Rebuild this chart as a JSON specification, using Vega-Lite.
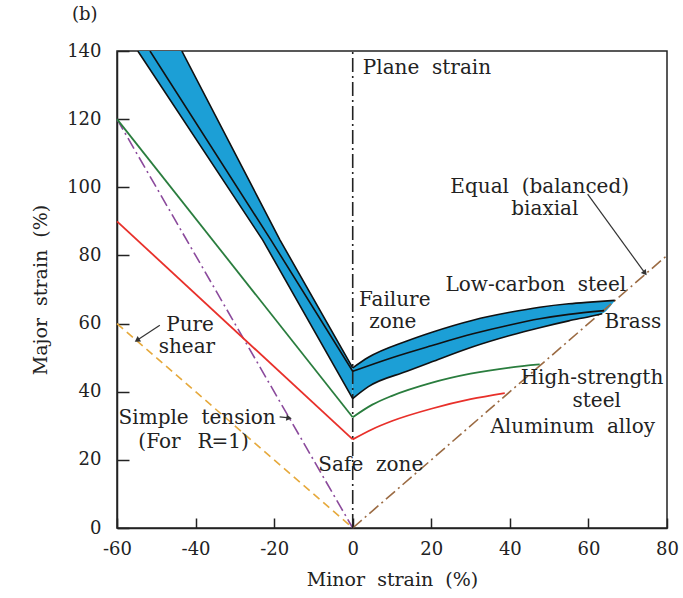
{
  "$schema": "https://vega.github.io/schema/vega-lite/v6.json",
  "autosize": {"type": "none"},
  "padding": {"left": 117, "top": 51, "right": 16, "bottom": 70},
  "width": 550,
  "height": 477,
  "background": "white",
  "title": {"text": "(b)", "anchor": "start", "frame": "group", "dx": -45, "offset": 18, "font": "DejaVu Serif", "fontSize": 18, "fontWeight": "normal", "color": "#222"},
  "config": {
    "view": {"stroke": "#222", "strokeWidth": 1.5},
    "axis": {"grid": false, "labelFlush": false, "domainColor": "#222", "domainWidth": 1.5, "tickColor": "#222", "tickWidth": 1.5, "labelFont": "DejaVu Serif", "labelFontSize": 18, "labelColor": "#222", "titleFont": "DejaVu Serif", "titleFontSize": 19, "titleFontWeight": "normal", "titleColor": "#222", "labelExpr": "replace(datum.label, '\u2212', '-')"},
    "text": {"font": "DejaVu Serif", "fontSize": 20, "color": "#222"}
  },
  "datasets": {
    "bandL": [
      {"y": 38, "x1": 0, "x2": 0},
      {"y": 47, "x1": -4.4, "x2": 0},
      {"y": 84.5, "x1": -22.9, "x2": -18.5},
      {"y": 140, "x1": -54.7, "x2": -43.5}
    ],
    "bandR": [
      {"x": 0, "y1": 38, "y2": 47},
      {"x": 4, "y1": 41.5, "y2": 50.1},
      {"x": 13.8, "y1": 46, "y2": 54.9},
      {"x": 20, "y1": 48.7, "y2": 57.4},
      {"x": 30.6, "y1": 53.2, "y2": 61},
      {"x": 40, "y1": 56.5, "y2": 63.3},
      {"x": 47.6, "y1": 58.8, "y2": 64.8},
      {"x": 55, "y1": 60.8, "y2": 65.8},
      {"x": 60.4, "y1": 62.1, "y2": 66.3},
      {"x": 63.5, "y1": 62.9, "y2": 66.6},
      {"x": 66.7, "y1": 66.7, "y2": 66.8}
    ],
    "curves": [
      {"s": "upperL", "i": 1, "x": -43.5, "y": 140},
      {"s": "upperL", "i": 2, "x": -18.5, "y": 84.5},
      {"s": "upperL", "i": 3, "x": 0, "y": 47},
      {"s": "lowerL", "i": 1, "x": -54.7, "y": 140},
      {"s": "lowerL", "i": 2, "x": -22.9, "y": 84.5},
      {"s": "lowerL", "i": 3, "x": 0, "y": 38},
      {"s": "middleL", "i": 1, "x": -51.6, "y": 140},
      {"s": "middleL", "i": 2, "x": -20.8, "y": 84.5},
      {"s": "middleL", "i": 3, "x": 0, "y": 46},
      {"s": "greenL", "i": 1, "x": -60, "y": 120},
      {"s": "greenL", "i": 2, "x": 0, "y": 32.5},
      {"s": "redL", "i": 1, "x": -60, "y": 90},
      {"s": "redL", "i": 2, "x": 0, "y": 26},
      {"s": "upperR", "i": 1, "x": 0, "y": 47},
      {"s": "upperR", "i": 2, "x": 4, "y": 50.1},
      {"s": "upperR", "i": 3, "x": 13.8, "y": 54.9},
      {"s": "upperR", "i": 4, "x": 20, "y": 57.4},
      {"s": "upperR", "i": 5, "x": 30.6, "y": 61},
      {"s": "upperR", "i": 6, "x": 40, "y": 63.3},
      {"s": "upperR", "i": 7, "x": 47.6, "y": 64.8},
      {"s": "upperR", "i": 8, "x": 55, "y": 65.8},
      {"s": "upperR", "i": 9, "x": 60.4, "y": 66.3},
      {"s": "upperR", "i": 10, "x": 66.7, "y": 66.8},
      {"s": "lowerR", "i": 1, "x": 0, "y": 38},
      {"s": "lowerR", "i": 2, "x": 4, "y": 41.5},
      {"s": "lowerR", "i": 3, "x": 13.8, "y": 46},
      {"s": "lowerR", "i": 4, "x": 20, "y": 48.7},
      {"s": "lowerR", "i": 5, "x": 30.6, "y": 53.2},
      {"s": "lowerR", "i": 6, "x": 40, "y": 56.5},
      {"s": "lowerR", "i": 7, "x": 47.6, "y": 58.8},
      {"s": "lowerR", "i": 8, "x": 55, "y": 60.8},
      {"s": "lowerR", "i": 9, "x": 60.4, "y": 62.1},
      {"s": "lowerR", "i": 10, "x": 63.5, "y": 62.9},
      {"s": "middleR", "i": 1, "x": 0, "y": 46},
      {"s": "middleR", "i": 2, "x": 10, "y": 50},
      {"s": "middleR", "i": 3, "x": 20, "y": 53.5},
      {"s": "middleR", "i": 4, "x": 30.6, "y": 57},
      {"s": "middleR", "i": 5, "x": 40, "y": 59.6},
      {"s": "middleR", "i": 6, "x": 47.6, "y": 61.4},
      {"s": "middleR", "i": 7, "x": 55, "y": 62.7},
      {"s": "middleR", "i": 8, "x": 64, "y": 63.8},
      {"s": "greenR", "i": 1, "x": 0, "y": 32.5},
      {"s": "greenR", "i": 2, "x": 5, "y": 36.2},
      {"s": "greenR", "i": 3, "x": 10, "y": 38.8},
      {"s": "greenR", "i": 4, "x": 20, "y": 42.6},
      {"s": "greenR", "i": 5, "x": 30, "y": 45.3},
      {"s": "greenR", "i": 6, "x": 40, "y": 47.1},
      {"s": "greenR", "i": 7, "x": 47.6, "y": 48},
      {"s": "redR", "i": 1, "x": 0, "y": 26},
      {"s": "redR", "i": 2, "x": 5, "y": 29},
      {"s": "redR", "i": 3, "x": 10, "y": 31.4},
      {"s": "redR", "i": 4, "x": 20, "y": 35},
      {"s": "redR", "i": 5, "x": 30, "y": 37.8},
      {"s": "redR", "i": 6, "x": 38.7, "y": 39.6}
    ],
    "refs": [
      {"s": "tension", "i": 1, "x": -60, "y": 120},
      {"s": "tension", "i": 2, "x": 0, "y": 0},
      {"s": "shear", "i": 1, "x": -60, "y": 60},
      {"s": "shear", "i": 2, "x": 0, "y": 0},
      {"s": "biaxial", "i": 1, "x": 0, "y": 0},
      {"s": "biaxial", "i": 2, "x": 80, "y": 80},
      {"s": "plane", "i": 1, "x": 0, "y": 0},
      {"s": "plane", "i": 2, "x": 0, "y": 140}
    ],
    "labels": [
      {"x": 18.9, "y": 134.9, "t": "Plane\u00a0\u00a0strain", "st": "normal"},
      {"x": 47.6, "y": 100, "t": "Equal\u00a0\u00a0(balanced)", "st": "normal"},
      {"x": 48.9, "y": 93.5, "t": "biaxial", "st": "normal"},
      {"x": 10.7, "y": 66.9, "t": "Failure", "st": "normal"},
      {"x": 10.2, "y": 60.4, "t": "zone", "st": "normal"},
      {"x": 46.6, "y": 71.3, "t": "Low-carbon\u00a0\u00a0steel", "st": "normal"},
      {"x": 71.3, "y": 60.4, "t": "Brass", "st": "normal"},
      {"x": 60.9, "y": 44, "t": "High-strength", "st": "normal"},
      {"x": 62.1, "y": 37.2, "t": "steel", "st": "normal"},
      {"x": 56, "y": 29.6, "t": "Aluminum\u00a0\u00a0alloy", "st": "normal"},
      {"x": 4.6, "y": 18.5, "t": "Safe\u00a0\u00a0zone", "st": "normal"},
      {"x": -41.4, "y": 59.5, "t": "Pure", "st": "normal"},
      {"x": -42.2, "y": 53, "t": "shear", "st": "normal"},
      {"x": -39.6, "y": 32.3, "t": "Simple\u00a0\u00a0tension", "st": "normal"},
      {"x": -49.2, "y": 25.2, "t": "(For", "st": "normal"},
      {"x": -37.6, "y": 25.2, "t": "R", "st": "italic"},
      {"x": -31.2, "y": 25.2, "t": "=1)", "st": "normal"}
    ],
    "arrows": [
      {"x": 59.8, "y": 98, "x2": 74.4, "y2": 74.8, "a": -38},
      {"x": -49.1, "y": 59.5, "x2": -54.9, "y2": 55.1, "a": 57},
      {"x": -18.6, "y": 32.6, "x2": -16.2, "y2": 32.3, "a": -81}
    ]
  },
  "layer": [
    {
      "data": {"name": "bandL"},
      "mark": {"type": "area", "orient": "horizontal", "color": "#1c9fd6", "opacity": 1, "clip": true},
      "encoding": {
        "y": {"field": "y", "type": "quantitative", "scale": {"domain": [0, 140], "nice": false}, "axis": {"values": [0, 20, 40, 60, 80, 100, 120, 140], "title": "Major\u00a0\u00a0strain\u00a0\u00a0(%)", "tickSize": -12, "labelPadding": 28, "titlePadding": 16}},
        "x": {"field": "x1", "type": "quantitative", "scale": {"domain": [-60, 80], "nice": false}, "axis": {"values": [-60, -40, -20, 0, 20, 40, 60, 80], "title": "Minor\u00a0\u00a0strain\u00a0\u00a0(%)", "tickSize": -10, "labelPadding": 22, "titlePadding": 12}},
        "x2": {"field": "x2"}
      }
    },
    {
      "data": {"name": "bandR"},
      "mark": {"type": "area", "color": "#1c9fd6", "opacity": 1, "interpolate": "monotone"},
      "encoding": {
        "x": {"field": "x", "type": "quantitative"},
        "y": {"field": "y1", "type": "quantitative"},
        "y2": {"field": "y2"}
      }
    },
    {
      "data": {"name": "refs"},
      "transform": [{"filter": "datum.s == 'tension'"}],
      "mark": {"type": "line", "strokeWidth": 1.6, "color": "#8b4a9c", "strokeDash": [12, 4, 2, 4]},
      "encoding": {"x": {"field": "x", "type": "quantitative"}, "y": {"field": "y", "type": "quantitative"}, "order": {"field": "i"}}
    },
    {
      "data": {"name": "refs"},
      "transform": [{"filter": "datum.s == 'shear'"}],
      "mark": {"type": "line", "strokeWidth": 1.6, "color": "#e6a93c", "strokeDash": [8, 5]},
      "encoding": {"x": {"field": "x", "type": "quantitative"}, "y": {"field": "y", "type": "quantitative"}, "order": {"field": "i"}}
    },
    {
      "data": {"name": "refs"},
      "transform": [{"filter": "datum.s == 'biaxial'"}],
      "mark": {"type": "line", "strokeWidth": 1.6, "color": "#9b6b43", "strokeDash": [12, 4, 2, 4]},
      "encoding": {"x": {"field": "x", "type": "quantitative"}, "y": {"field": "y", "type": "quantitative"}, "order": {"field": "i"}}
    },
    {
      "data": {"name": "refs"},
      "transform": [{"filter": "datum.s == 'plane'"}],
      "mark": {"type": "line", "strokeWidth": 1.6, "color": "#222222", "strokeDash": [14, 4, 2, 4]},
      "encoding": {"x": {"field": "x", "type": "quantitative"}, "y": {"field": "y", "type": "quantitative"}, "order": {"field": "i"}}
    },
    {
      "data": {"name": "curves"},
      "transform": [{"filter": {"field": "s", "oneOf": ["upperL", "lowerL", "middleL"]}}],
      "mark": {"type": "line", "clip": true, "color": "#111111", "strokeWidth": 1.6},
      "encoding": {"x": {"field": "x", "type": "quantitative"}, "y": {"field": "y", "type": "quantitative"}, "order": {"field": "i"}, "detail": {"field": "s"}}
    },
    {
      "data": {"name": "curves"},
      "transform": [{"filter": {"field": "s", "oneOf": ["upperR", "lowerR", "middleR"]}}],
      "mark": {"type": "line", "color": "#111111", "strokeWidth": 1.6, "interpolate": "monotone"},
      "encoding": {"x": {"field": "x", "type": "quantitative"}, "y": {"field": "y", "type": "quantitative"}, "order": {"field": "i"}, "detail": {"field": "s"}}
    },
    {
      "data": {"name": "curves"},
      "transform": [{"filter": "datum.s == 'greenL'"}],
      "mark": {"type": "line", "color": "#2a7d3e", "strokeWidth": 1.8},
      "encoding": {"x": {"field": "x", "type": "quantitative"}, "y": {"field": "y", "type": "quantitative"}, "order": {"field": "i"}}
    },
    {
      "data": {"name": "curves"},
      "transform": [{"filter": "datum.s == 'greenR'"}],
      "mark": {"type": "line", "color": "#2a7d3e", "strokeWidth": 1.8, "interpolate": "monotone"},
      "encoding": {"x": {"field": "x", "type": "quantitative"}, "y": {"field": "y", "type": "quantitative"}, "order": {"field": "i"}}
    },
    {
      "data": {"name": "curves"},
      "transform": [{"filter": "datum.s == 'redL'"}],
      "mark": {"type": "line", "color": "#e8302a", "strokeWidth": 1.8},
      "encoding": {"x": {"field": "x", "type": "quantitative"}, "y": {"field": "y", "type": "quantitative"}, "order": {"field": "i"}}
    },
    {
      "data": {"name": "curves"},
      "transform": [{"filter": "datum.s == 'redR'"}],
      "mark": {"type": "line", "color": "#e8302a", "strokeWidth": 1.8, "interpolate": "monotone"},
      "encoding": {"x": {"field": "x", "type": "quantitative"}, "y": {"field": "y", "type": "quantitative"}, "order": {"field": "i"}}
    },
    {
      "data": {"name": "arrows"},
      "mark": {"type": "rule", "color": "#333", "strokeWidth": 1.2},
      "encoding": {
        "x": {"field": "x", "type": "quantitative"},
        "y": {"field": "y", "type": "quantitative"},
        "x2": {"field": "x2"},
        "y2": {"field": "y2"}
      }
    },
    {
      "data": {"name": "arrows"},
      "mark": {"type": "point", "shape": "triangle-down", "filled": true, "color": "#333", "size": 40, "opacity": 1},
      "encoding": {
        "x": {"field": "x2", "type": "quantitative"},
        "y": {"field": "y2", "type": "quantitative"},
        "angle": {"field": "a", "type": "quantitative", "scale": null}
      }
    },
    {
      "data": {"name": "labels"},
      "mark": {"type": "text", "align": "center", "baseline": "middle"},
      "encoding": {
        "x": {"field": "x", "type": "quantitative"},
        "y": {"field": "y", "type": "quantitative"},
        "text": {"field": "t"},
        "fontStyle": {"field": "st", "type": "nominal", "scale": null}
      }
    }
  ]
}
